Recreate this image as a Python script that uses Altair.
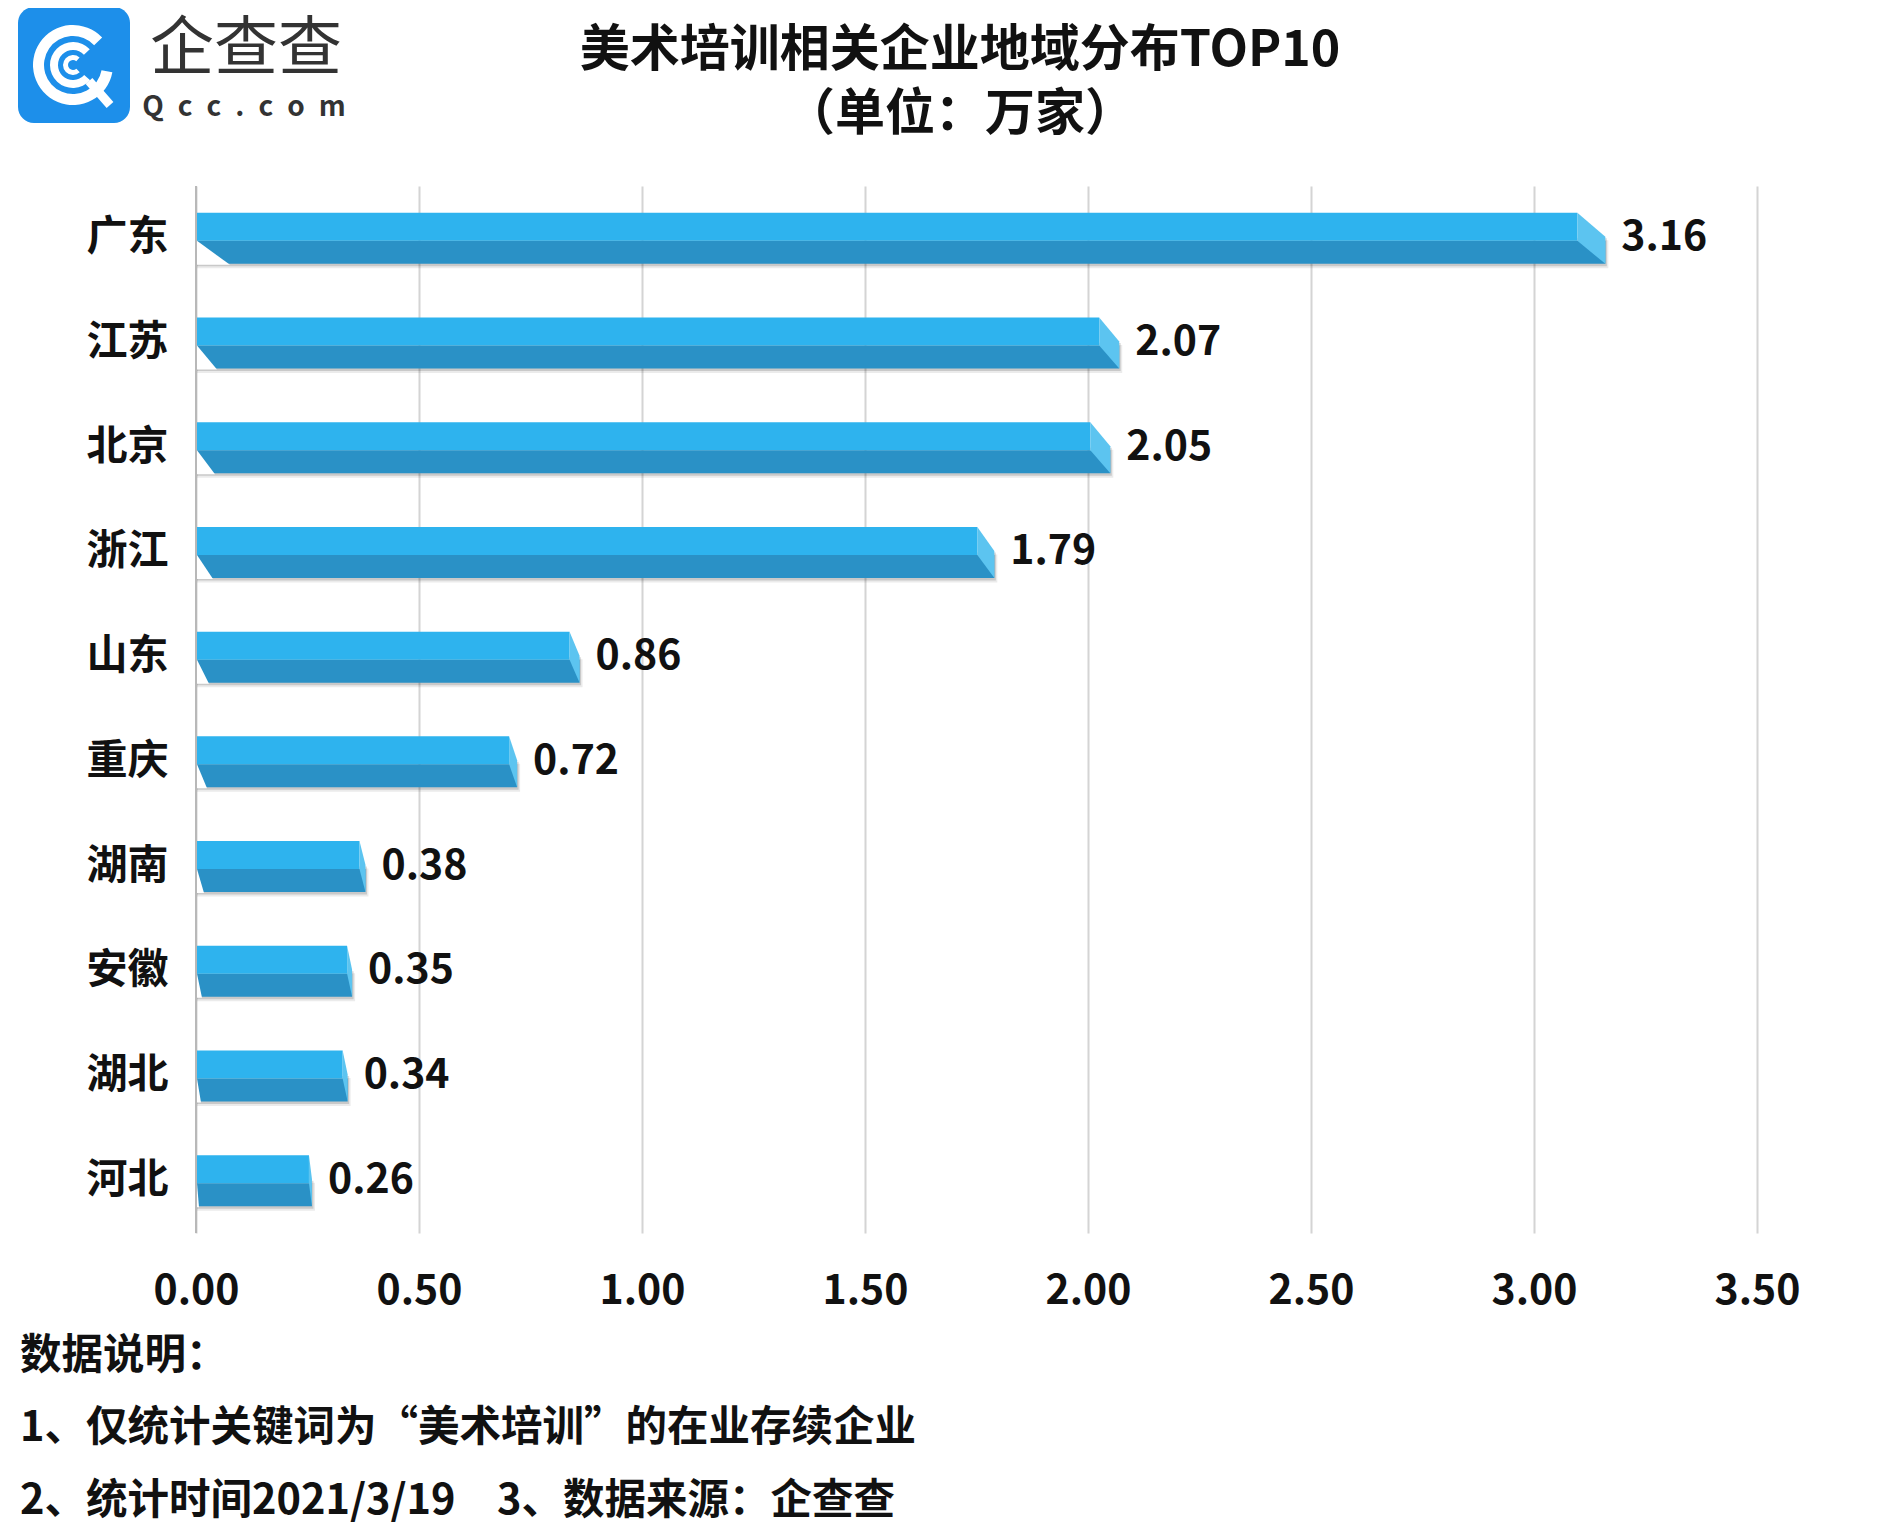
import altair as alt
import pandas as pd

# ---- data ----
categories = ["广东", "江苏", "北京", "浙江", "山东", "重庆", "湖南", "安徽", "湖北", "河北"]
values = [3.16, 2.07, 2.05, 1.79, 0.86, 0.72, 0.38, 0.35, 0.34, 0.26]
x_ticks = [0, 0.5, 1.0, 1.5, 2.0, 2.5, 3.0, 3.5]

title_line1 = "美术培训相关企业地域分布TOP10"
title_line2 = "（单位：万家）"
notes = [
    "数据说明：",
    "1、仅统计关键词为“美术培训”的在业存续企业",
    "2、统计时间2021/3/19\u30003、数据来源：企查查",
]
logo_cn = "企查查"
logo_en = "Q\u2002c\u2002c\u2002.\u2002c\u2002o\u2002m"

# ---- styles (3D perspective look) ----
bevel_px = [28, 20, 20, 17, 10, 8, 6, 5, 5, 3]
slant_px = [33, 20, 18, 16, 12, 10, 7, 5, 4, 2]

W, H = 1561, 1047
XMAX = 3.5
PPU = W / XMAX
FONT = "Noto Sans CJK SC"
TOP_C = "#2EB3EE"
BOT_C = "#2A91C6"
BEV_C = "#5CC4F0"
TXT = "#111111"

df = pd.DataFrame({"cat": categories, "val": values})
df["zero"] = 0.0
df["top_end"] = [v - b / PPU for v, b in zip(values, bevel_px)]
df["label"] = [f"{v:.2f}" for v in values]
df["bevel_path"] = [f"M{-b},-25.5 L0,-1.5 L0,25.5 L{-b},2.5 Z" for b in bevel_px]
df["slant_path"] = [f"M1,2.5 L1,26.5 L{s + 1},26.5 Z" for s in slant_px]

x_scale = alt.Scale(domain=[0, XMAX], nice=False, zero=True)
x_axis = alt.Axis(
    title=None, values=x_ticks, format=".2f", domain=False, ticks=False,
    grid=True, gridColor="#d4d4d4", gridWidth=2,
    labelFont=FONT, labelFontSize=41, labelFontWeight="bold", labelColor=TXT,
    labelPadding=38, labelFlush=False, labelOverlap=False,
)
y_enc = alt.Y(
    "cat:N", sort=categories,
    scale=alt.Scale(paddingInner=0, paddingOuter=0),
    axis=alt.Axis(title=None, domain=False, ticks=False, labelFont=FONT,
                  labelFontSize=41, labelFontWeight="bold", labelColor=TXT,
                  labelPadding=28),
)

base = alt.Chart(df)

shadow1 = base.mark_bar(size=28, yOffset=16, x2Offset=3, color="#000000", opacity=0.08).encode(
    x=alt.X("zero:Q", scale=x_scale, axis=x_axis), x2="val:Q", y=y_enc)
shadow2 = base.mark_bar(size=28, yOffset=14, x2Offset=1.5, color="#000000", opacity=0.14).encode(
    x=alt.X("zero:Q"), x2="val:Q", y=y_enc)
top_face = base.mark_bar(size=28, yOffset=-11.5, color=TOP_C).encode(
    x=alt.X("zero:Q"), x2="top_end:Q", y=y_enc)
bottom_face = base.mark_bar(size=23, yOffset=14, color=BOT_C).encode(
    x=alt.X("zero:Q"), x2="val:Q", y=y_enc)
left_cut = base.mark_point(filled=True, size=4, opacity=1, strokeWidth=0, color="white").encode(
    x=alt.X("zero:Q"), y=y_enc, shape=alt.Shape("slant_path:N", scale=None, legend=None))
bevel = base.mark_point(filled=True, size=4, opacity=1, strokeWidth=0, color=BEV_C).encode(
    x=alt.X("val:Q"), y=y_enc, shape=alt.Shape("bevel_path:N", scale=None, legend=None))
value_labels = base.mark_text(align="left", baseline="middle", dx=16, font=FONT, fontSize=41,
                              fontWeight="bold", color=TXT).encode(
    x=alt.X("val:Q"), y=y_enc, text="label:N")

zero_rule = alt.Chart(pd.DataFrame({"z": [0.0]})).mark_rule(color="#b8b8b8", strokeWidth=2).encode(
    x=alt.X("z:Q"), y=alt.value(0), y2=alt.value(H))


def text_layer(txt, x, y, size, weight="bold", align="center", color=TXT):
    return alt.Chart(pd.DataFrame({"t": [txt]})).mark_text(
        align=align, baseline="middle", font=FONT, fontSize=size, fontWeight=weight, color=color
    ).encode(x=alt.value(x), y=alt.value(y), text="t:N")


titles = [
    text_layer(title_line1, 764, -135, 50),
    text_layer(title_line2, 764, -71, 50),
]
note_layers = [
    text_layer(notes[0], -176, 1171, 41.5, align="left"),
    text_layer(notes[1], -176, 1243, 41.5, align="left"),
    text_layer(notes[2], -176, 1316, 41.5, align="left"),
]

# ---- logo ----
one = pd.DataFrame({"a": [0]})
CX, CY = -123, -121
logo_box = alt.Chart(one).mark_rect(color="#1D8FEA", cornerRadius=16).encode(
    x=alt.value(-178), x2=alt.value(-66), y=alt.value(-179), y2=alt.value(-63))
ring_outer = alt.Chart(one).mark_arc(color="white", radius=40, radius2=29,
                                     theta=1.75, theta2=7.1).encode(
    x=alt.value(CX), y=alt.value(CY))
ring_mid = alt.Chart(one).mark_arc(color="white", radius=23, radius2=15,
                                   theta=2.3, theta2=7.1).encode(
    x=alt.value(CX), y=alt.value(CY))
ring_in = alt.Chart(one).mark_arc(color="white", radius=10, radius2=5,
                                  theta=2.4, theta2=7.0).encode(
    x=alt.value(CX), y=alt.value(CY))
tail = alt.Chart(one).mark_rule(color="white", strokeWidth=9).encode(
    x=alt.value(CX + 16), y=alt.value(CY + 16), x2=alt.value(CX + 37), y2=alt.value(CY + 40))
logo_t1 = text_layer(logo_cn, 50, -136, 64, weight="normal", color="#333333")
logo_t2 = text_layer(logo_en, 48, -78, 28, weight="bold", color="#333333")

chart = alt.layer(
    shadow1, shadow2, bottom_face, top_face, left_cut, bevel, zero_rule, value_labels,
    *titles, *note_layers, logo_box, ring_outer, ring_mid, ring_in, tail, logo_t1, logo_t2,
).properties(
    width=W, height=H,
    padding={"left": 188, "top": 178, "right": 112, "bottom": 298},
    autosize=alt.AutoSizeParams(type="none"),
    background="white",
).configure_view(stroke=None)

chart.save("out.html", embed_options={"renderer": "svg", "actions": False})
